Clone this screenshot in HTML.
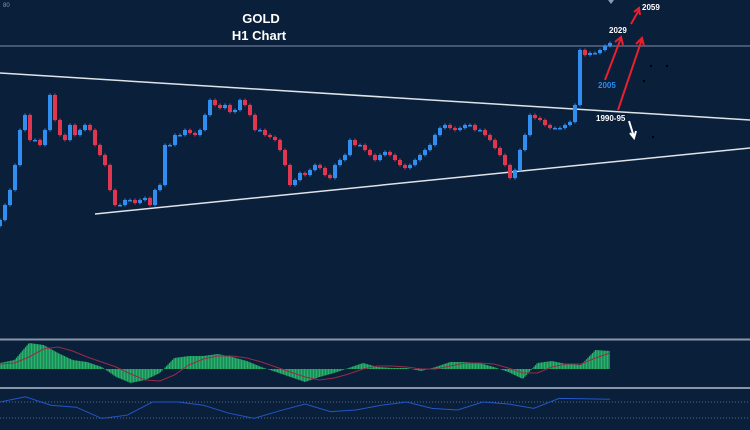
<!DOCTYPE html>
<html><head><meta charset="utf-8"><style>
html,body{margin:0;padding:0;background:#0a1f3a;}
svg{display:block;font-family:"Liberation Sans",sans-serif;}
</style></head><body>
<svg id="c" width="750" height="430" viewBox="0 0 750 430">
<rect width="750" height="430" fill="#0a1f3a"/>
<text x="3" y="7" font-size="6" fill="#8a9bb5">80</text>
<polygon points="608,0 614,0 611,4" fill="#8a9bb5"/>
<text x="261" y="23" font-size="13" font-weight="bold" fill="#fff" text-anchor="middle">GOLD</text>
<text x="259" y="40" font-size="13" font-weight="bold" fill="#fff" text-anchor="middle">H1 Chart</text>
<line x1="0" y1="46" x2="750" y2="46" stroke="#7d8ea8" stroke-width="1"/>
<line x1="0" y1="73" x2="750" y2="120" stroke="#dfe4ea" stroke-width="1.5"/>
<line x1="95" y1="214" x2="750" y2="148" stroke="#dfe4ea" stroke-width="1.5"/>
<g id="candles"></g>
<g stroke="#e8202e" stroke-width="2" fill="none">
<line x1="605" y1="80" x2="621" y2="38"/><polyline points="615,42 621,37 623,45"/>
<line x1="618" y1="110" x2="642" y2="39"/><polyline points="636,44 642,38 644,46"/>
<line x1="631" y1="24" x2="639" y2="10"/><polyline points="634,12 639,8 640,15"/>
</g>
<g stroke="#fff" stroke-width="2" fill="none">
<line x1="629" y1="121" x2="634" y2="137"/><polyline points="630,133 634,138 636,131"/>
</g>
<text x="642" y="10" font-size="8" font-weight="bold" fill="#fff">2059</text>
<text x="609" y="33" font-size="8" font-weight="bold" fill="#fff">2029</text>
<text x="598" y="88" font-size="8" font-weight="bold" fill="#2a8cf0">2005</text>
<text x="596" y="121" font-size="8" font-weight="bold" fill="#fff">1990-95</text>
<rect x="650" y="65" width="2" height="2" fill="#000"/><rect x="666" y="65" width="2" height="2" fill="#000"/><rect x="643" y="80" width="2" height="2" fill="#000"/><rect x="652" y="136" width="2" height="2" fill="#000"/>
<line x1="0" y1="339.5" x2="750" y2="339.5" stroke="#8a96a8" stroke-width="2"/>
<line x1="0" y1="388" x2="750" y2="388" stroke="#8a96a8" stroke-width="2"/>
<g id="macd"></g>
<line x1="0" y1="402" x2="750" y2="402" stroke="#5a6a80" stroke-dasharray="1,2"/>
<line x1="0" y1="418" x2="750" y2="418" stroke="#5a6a80" stroke-dasharray="1,2"/>
<g id="rsi"></g>
</svg>
<script>
const closes=[1943,1950.5,1958,1970.5,1988,1995.5,1983,1983,1980.5,1988,2005.5,1993,1985.5,1983,1990.5,1985.5,1988,1990.5,1988,1980.5,1975.5,1970.5,1958,1950.5,1950.5,1953,1953,1951.5,1953,1954,1950.5,1958,1960.5,1980.5,1980.5,1985.5,1985.5,1988,1986.5,1985.5,1988,1995.5,2003,2000.5,1999,2000.5,1997,1998,2003,2000.5,1995.5,1988,1988,1985.5,1984.5,1983,1978,1970.5,1960.5,1963,1966.5,1965.5,1968,1970.5,1969,1965.5,1964,1970.5,1973,1975.5,1983,1980.5,1980.5,1978,1975.5,1973,1975.5,1977,1975.5,1973,1970.5,1969,1970.5,1973,1975.5,1978,1980.5,1985.5,1989,1990.5,1989,1988,1989,1990.5,1990.5,1988,1988,1985.5,1983,1979,1975.5,1970.5,1964,1968,1978,1985.5,1995.5,1994,1993,1990.5,1989,1989,1989,1990.5,1992,2000.5,2028,2025.5,2026.5,2026.5,2028,2030,2031.5];
const macdHist=[6,9,26,24,16,9,7,2,-8,-14,-11,-4,11,13,13,15,12,8,2,-3,-8,-13,-8,-4,1,6,2,1,1,-2,2,7,7,6,2,-3,-10,6,8,5,4,19,18];
const macdSignal=[5,6,12,20,22,18,12,7,2,-5,-11,-12,-6,4,10,13,13,11,7,2,-3,-8,-11,-9,-5,0,3,3,2,0,0,3,6,6,5,1,-4,-4,2,5,5,11,16];
const rsiValues=[70,83,62,57,29,37,70,70,62,42,29,48,65,46,50,62,70,54,50,70,65,54,79,78,77];
const svg=document.getElementById('c');
const NS='http://www.w3.org/2000/svg';
function yP(p){return 46+(2030-p)*2;}
function mk(tag,attrs,parent){const e=document.createElementNS(NS,tag);for(const k in attrs)e.setAttribute(k,attrs[k]);parent.appendChild(e);return e;}
const cg=document.getElementById('candles');
const step=610/(closes.length-1);
closes.forEach((c,i)=>{
  const o=i?closes[i-1]:c-3;
  const x=i*step;
  const up=c>=o;
  const col=up?'#2f8ef0':'#e0364f';
  const top=yP(Math.max(o,c)),bot=yP(Math.min(o,c));
  const w=mk('line',{x1:x,x2:x,y1:top-1.5,y2:bot+1.5,stroke:col,'stroke-width':1},cg);
  
  
  const r=mk('rect',{x:x-2,y:top,width:4,height:Math.max(1.5,bot-top),fill:col},cg);
  
  
});
const mg=document.getElementById('macd');
const zero=369,mx=610/(macdHist.length-1);
for(let x=0;x<=610;x+=1.5){
  const f=x/mx,i=Math.min(Math.floor(f),macdHist.length-2),t=f-i;
  const v=macdHist[i]*(1-t)+macdHist[i+1]*t;
  const b=mk('line',{x1:x,x2:x,y1:zero,y2:zero-v,stroke:'#27b56a','stroke-width':1.3},mg);
  
  
}
const sl=mk('polyline',{points:macdSignal.map((v,i)=>(i*mx)+','+(zero-v)).join(' '),fill:'none',stroke:'#9b2a4a','stroke-width':1},mg);


const rg=document.getElementById('rsi');
const rx=610/(rsiValues.length-1);
const rl=mk('polyline',{points:rsiValues.map((v,i)=>(i*rx)+','+(402+(70-v)*0.4)).join(' '),fill:'none',stroke:'#2456c8','stroke-width':1},rg);


</script>
</body></html>
